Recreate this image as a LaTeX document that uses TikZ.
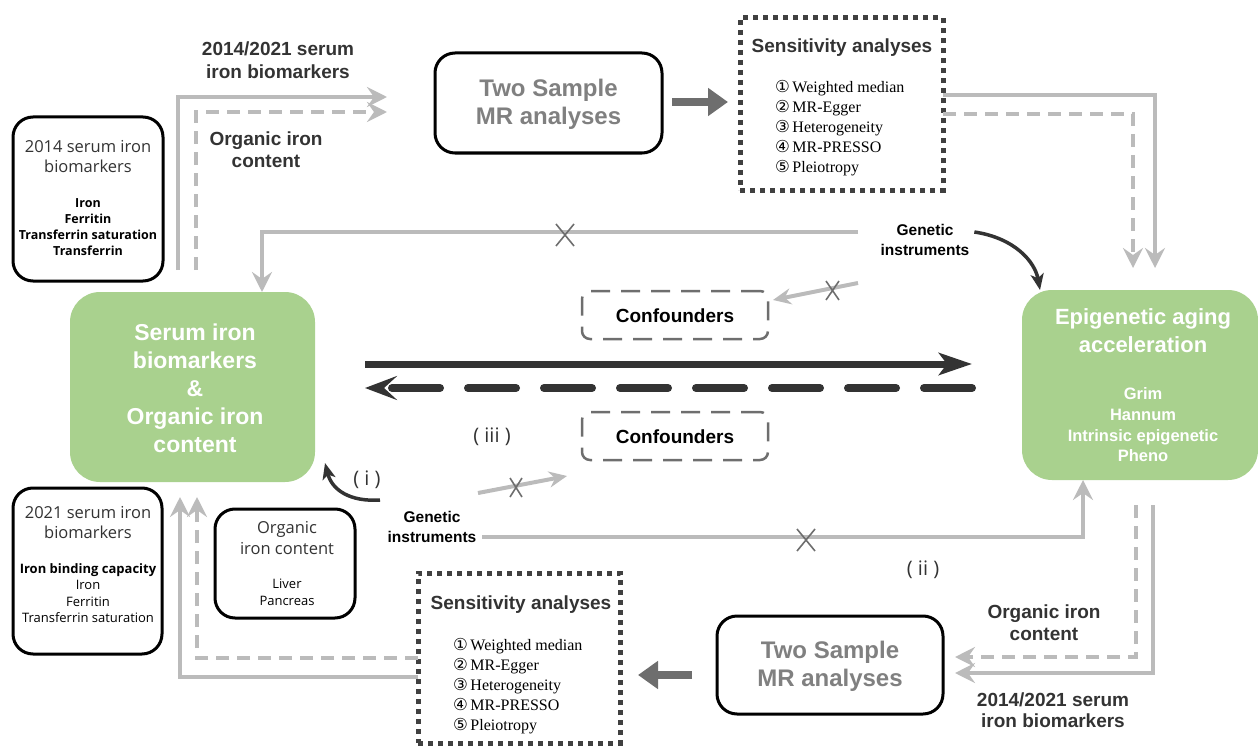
\documentclass[tikz,border=0pt]{standalone}
\usepackage{fontspec}
\setmainfont{Liberation Sans}
\newfontfamily\osans{Open Sans}
\newfontfamily\timesf{Liberation Serif}
\newfontfamily\dejavu{DejaVu Sans}
\usetikzlibrary{arrows.meta}
\definecolor{grn}{HTML}{A9D18E}
\definecolor{lgr}{HTML}{BBBBBB}
\definecolor{dgr}{HTML}{404040}
\definecolor{mgr}{HTML}{6E6E6E}
\definecolor{tgr}{HTML}{808080}
\definecolor{lbl}{HTML}{333333}
\definecolor{blk}{HTML}{333333}
\newcommand\cnum[1]{{\dejavu\fontsize{16.5}{20}\selectfont #1}\,}
\begin{document}
\begin{tikzpicture}[x=1pt,y=-1pt,
  every node/.style={inner sep=0pt, outer sep=0pt},
  blackbox/.style={draw=black, line width=3pt, rounded corners=20pt, fill=white},
  greenbox/.style={fill=grn, rounded corners=30pt},
  sensbox/.style={draw=dgr, line width=5pt, dash pattern=on 5pt off 5pt},
  confbox/.style={draw=mgr, line width=2.5pt, dash pattern=on 19pt off 11pt, rounded corners=8pt},
  gline/.style={draw=lgr, line width=4pt},
  gdash/.style={gline, dash pattern=on 13pt off 8pt},
  gtip/.style={-{Stealth[length=20pt,width=20pt,inset=7pt]}},
  fatarr/.style={draw=mgr, line width=8pt, -{Triangle[length=20pt,width=27pt]}},
  blkarr/.style={draw=blk, line width=3.5pt, -{Stealth[length=16pt,width=13pt,inset=4pt]}},
  xmark/.style={draw=mgr, line width=1.6pt},
  lab/.style={font=\bfseries\fontsize{19}{23}\selectfont, text=lbl, align=center},
  gilab/.style={font=\bfseries\fontsize{15.5}{20}\selectfont, text=black, align=center},
  roman/.style={font=\osans\fontsize{20}{24}\selectfont, text=lbl},
  boxtitle/.style={font=\osans\fontsize{16.5}{20}\selectfont, text=lbl, align=center},
  tstext/.style={font=\bfseries\fontsize{24}{28}\selectfont, text=tgr, align=center},
  senstitle/.style={font=\bfseries\fontsize{19}{22}\selectfont, text=lbl},
  sensitems/.style={font=\timesf\fontsize{16}{20}\selectfont, align=left, anchor=west},
  conftext/.style={font=\bfseries\fontsize{19}{22}\selectfont, text=black}
]
\useasboundingbox (0,0) rectangle (1258,749);

% ---------- boxes ----------
\node[blackbox, minimum width=150pt, minimum height=164pt] (b2014) at (88,199) {};
\node[boxtitle] (b2014t) at (88,157) {2014 serum iron\\biomarkers};
\node[font=\osans\bfseries\fontsize{12.5}{16}\selectfont, align=center] (b2014i) at (88,227) {Iron\\Ferritin\\Transferrin saturation\\Transferrin};

\node[blackbox, minimum width=149pt, minimum height=166pt] (b2021) at (87.5,571) {};
\node[boxtitle] (b2021t) at (88,523) {2021 serum iron\\biomarkers};
\node[font=\osans\fontsize{13}{16.3}\selectfont, align=center] (b2021i) at (88,593) {{\bfseries Iron binding capacity}\\Iron\\Ferritin\\Transferrin saturation};

\node[blackbox, minimum width=140pt, minimum height=109pt] (org) at (285,563.5) {};
\node[boxtitle, font=\osans\fontsize{16.5}{21}\selectfont] (orgt) at (287,538) {Organic\\iron content};
\node[font=\osans\fontsize{13}{17}\selectfont, align=center] (orgi) at (287,592) {Liver\\Pancreas};

\node[blackbox, minimum width=227pt, minimum height=100pt] (ts1) at (548.5,103) {};
\node[tstext] (ts1t) at (548.5,104) {Two Sample\\MR analyses};
\node[blackbox, minimum width=226pt, minimum height=98pt] (ts2) at (830,665) {};
\node[tstext] (ts2t) at (830,666) {Two Sample\\MR analyses};

\node[sensbox, minimum width=203pt, minimum height=172pt] (sens1) at (841.5,104) {};
\node[senstitle] (sens1t) at (842,48) {Sensitivity analyses};
\node[sensitems] (sens1i) at (775,128) {\cnum{①}Weighted median\\\cnum{②}MR-Egger\\\cnum{③}Heterogeneity\\\cnum{④}MR-PRESSO\\\cnum{⑤}Pleiotropy};

\node[sensbox, minimum width=202pt, minimum height=170pt] (sens2) at (519,658) {};
\node[senstitle] (sens2t) at (521,605) {Sensitivity analyses};
\node[sensitems] (sens2i) at (453,686) {\cnum{①}Weighted median\\\cnum{②}MR-Egger\\\cnum{③}Heterogeneity\\\cnum{④}MR-PRESSO\\\cnum{⑤}Pleiotropy};

\node[greenbox, minimum width=245pt, minimum height=190pt] (serum) at (192.5,387) {};
\node[font=\bfseries\fontsize{23}{28}\selectfont, text=white, align=center] (serumt) at (195,388) {Serum iron\\biomarkers\\\&\\Organic iron\\content};
\node[greenbox, minimum width=236pt, minimum height=190pt] (epi) at (1140,385) {};
\node[font=\bfseries\fontsize{22}{28}\selectfont, text=white, align=center] (epit) at (1143,331) {Epigenetic aging\\acceleration};
\node[font=\bfseries\fontsize{16.5}{20.7}\selectfont, text=white, align=center] (epii) at (1143,425) {Grim\\Hannum\\Intrinsic epigenetic\\Pheno};

\node[confbox, minimum width=186pt, minimum height=48pt] (conf1) at (675,315) {};
\node[conftext] (conf1t) at (675,316) {Confounders};
\node[confbox, minimum width=186pt, minimum height=48pt] (conf2) at (675,436) {};
\node[conftext] (conf2t) at (675,437) {Confounders};

% ---------- labels ----------
\node[lab] (l1) at (278,60) {2014/2021 serum\\iron biomarkers};
\node[lab, font=\bfseries\fontsize{19}{22}\selectfont] (l2) at (266,150) {Organic iron\\content};
\node[lab, font=\bfseries\fontsize{19}{22}\selectfont] (l3) at (1044,623) {Organic iron\\content};
\node[lab, font=\bfseries\fontsize{19}{21}\selectfont] (l4) at (1053,710) {2014/2021 serum\\iron biomarkers};
\node[gilab] (gi1) at (925,240) {Genetic\\instruments};
\node[gilab] (gi2) at (432,527) {Genetic\\instruments};
\node[roman] (r1) at (367,480) {( i )};
\node[roman] (r2) at (923,570) {( ii )};
\node[roman] (r3) at (492,437) {( iii )};

% ---------- coordinates ----------
\coordinate (a1s) at (178,270);  \coordinate (a1c) at (178,97);  \coordinate (a1e) at (387,97);
\coordinate (a2s) at (196,270);  \coordinate (a2c) at (196,112); \coordinate (a2e) at (387,112);
\coordinate (a3c) at (1155,95);  \coordinate (a3e) at (1155,268);
\coordinate (a4c) at (1133,114); \coordinate (a4e) at (1133,268);
\coordinate (a5s) at (1153,505); \coordinate (a5c) at (1153,673); \coordinate (a5e) at (955,673);
\coordinate (a6s) at (1136,505); \coordinate (a6c) at (1136,657); \coordinate (a6e) at (955,657);
\coordinate (a7c) at (180,677);  \coordinate (a7e) at (180,497);
\coordinate (a8c) at (197,658);  \coordinate (a8e) at (197,497);
\coordinate (g1s) at (858,232);  \coordinate (g1c) at (262,232);
\coordinate (g2s) at (482,537);  \coordinate (g2c) at (1083,537);
\coordinate (c1s) at (858,283);  \coordinate (c1e) at (773,300);
\coordinate (c2s) at (478,493);  \coordinate (c2e) at (567,476);

% ---------- grey connectors ----------
\draw[gline, gtip] (a1s) -- (a1c) -- (a1e);
\draw[gdash, gtip] (a2s) -- (a2c) -- (a2e);
\draw[gline, gtip] (sens1.east |- a3c) -- (a3c) -- (a3e);
\draw[gdash, gtip] (sens1.east |- a4c) -- (a4c) -- (a4e);
\draw[gline, gtip] (a5s) -- (a5c) -- (a5e);
\draw[gdash, gtip] (a6s) -- (a6c) -- (a6e);
\draw[gline, gtip] (sens2.west |- a7c) -- (a7c) -- (a7e);
\draw[gdash, gtip] (sens2.west |- a8c) -- (a8c) -- (a8e);
\draw[gline, gtip] (g1s) -- (g1c) -- (serum.north -| g1c);
\draw[gline, gtip] (g2s) -- (g2c) -- (epi.south -| g2c);
\draw[gline, -{Stealth[length=18pt,width=16pt,inset=6pt]}] (c1s) -- (c1e);
\draw[gline, -{Stealth[length=18pt,width=16pt,inset=6pt]}] (c2s) -- (c2e);

% X marks
\draw[xmark] (556,224) -- (574,246) (574,224) -- (556,246);
\draw[xmark] (797,529) -- (815,551) (815,529) -- (797,551);
\draw[xmark] (826,281) -- (839,300) (839,281) -- (826,300);
\draw[xmark] (510,478) -- (522,497) (522,478) -- (510,497);

% ---------- dark arrows ----------
\draw[fatarr] (672,102) -- (728,102);
\draw[fatarr] (692,675) -- (638,675);
\draw[draw=blk, line width=7pt, -{Stealth[length=33pt,width=22pt,inset=8pt]}] (365,364) -- (972,364);
\draw[draw=blk, line width=8pt, line cap=round, dash pattern=on 48pt off 28pt, -{Stealth[length=32pt,width=24pt,inset=13pt]}] (972,388) -- (365,388);
\draw[blkarr] (gi1.east) ++(5,-8) .. controls (1015,238) and (1035,262) .. (1040,290);
\draw[blkarr] (380,500) .. controls (350,502) and (332,490) .. (325,463);
\end{tikzpicture}
\end{document}
